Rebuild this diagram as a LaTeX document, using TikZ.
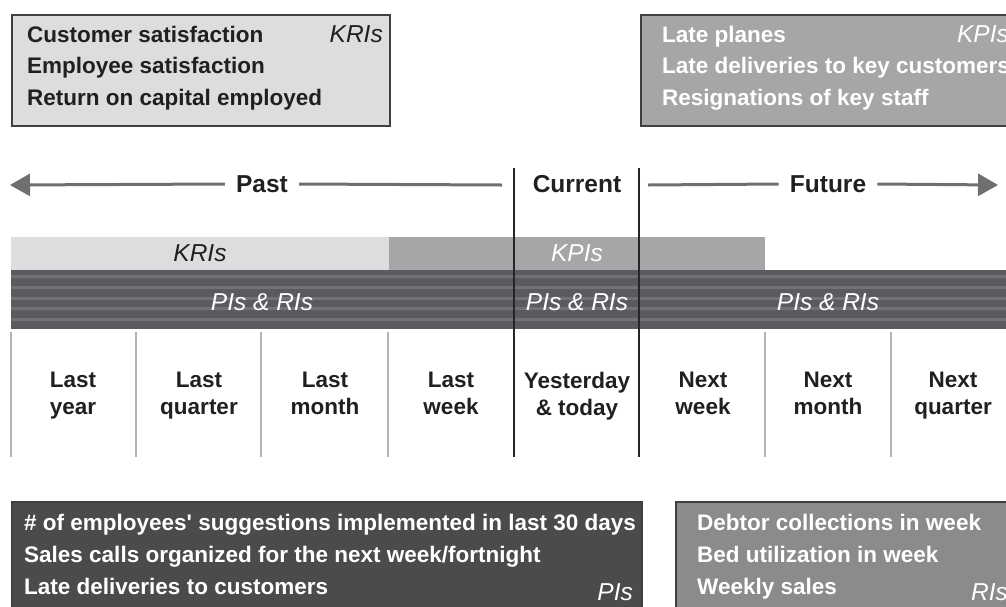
\documentclass[tikz,border=0pt]{standalone}
\usepackage{fontspec}
\setmainfont{Liberation Sans}
\definecolor{krigray}{RGB}{220,221,223}
\definecolor{kpigray}{RGB}{165,166,168}
\definecolor{bandgray}{RGB}{90,91,94}
\definecolor{stripegray}{RGB}{114,115,118}
\definecolor{pigray}{RGB}{75,75,77}
\definecolor{rigray}{RGB}{138,139,141}
\definecolor{arrowgray}{RGB}{110,111,113}
\definecolor{linegray}{RGB}{180,180,182}
\definecolor{inkdark}{RGB}{35,31,32}
\usetikzlibrary{arrows.meta,positioning}

\begin{document}
\begin{tikzpicture}[x=1pt, y=-1pt, >={Triangle[length=20pt,width=22pt]},
  every node/.style={inner sep=0pt},
  txt/.style={font=\fontsize{22.5}{27}\selectfont\bfseries, text=inkdark, anchor=base west},
  wtxt/.style={txt, text=white},
  tag/.style={font=\fontsize{24.5}{29}\selectfont\itshape, anchor=base east},
  head/.style={font=\fontsize{24.5}{29}\selectfont\bfseries, text=inkdark, inner xsep=11pt},
  col/.style={font=\fontsize{22.5}{27}\selectfont\bfseries, text=inkdark, align=center, anchor=north},
  box/.style={draw=black!75, line width=1.5pt, anchor=north west},
  timeline/.style={arrowgray, line width=3pt}]

\useasboundingbox (0,0) rectangle (1006,606);
\clip (0,0) rectangle (1006,606);

% indicator boxes
\node[box, fill=krigray, minimum width=378pt, minimum height=111pt] (krbox) at (11,14) {};
\node[box, fill=kpigray, minimum width=380pt, minimum height=111pt] (kpbox) at (640,14) {};
\node[box, fill=pigray, minimum width=630pt, minimum height=120pt] (pibox) at (11,501) {};
\node[box, fill=rigray, minimum width=345pt, minimum height=120pt] (ribox) at (675,501) {};

\foreach \t [count=\i] in {Customer satisfaction, Employee satisfaction, Return on capital employed}
  \node[txt] (kr\i) at (27,{42+31.5*(\i-1)}) {\t};
\node[tag, text=inkdark] (krtag) at (383,42) {KRIs};

\foreach \t [count=\i] in {Late planes, Late deliveries to key customers, Resignations of key staff}
  \node[wtxt] (kp\i) at (662,{42+31.5*(\i-1)}) {\t};
\node[tag, text=white] (kptag) at (1009,42) {KPIs};

\foreach \t [count=\i] in {\# of employees\textquotesingle\ suggestions implemented in last 30 days,
    Sales calls organized for the next week/fortnight, Late deliveries to customers}
  \node[wtxt] (pi\i) at (24,{530+32*(\i-1)}) {\t};
\node[tag, text=white] (pitag) at (633,600) {PIs};

\foreach \t [count=\i] in {Debtor collections in week, Bed utilization in week, Weekly sales}
  \node[wtxt] (ri\i) at (697,{530+32*(\i-1)}) {\t};
\node[tag, text=white] (ritag) at (1008,600) {RIs};

% time line
\node[head] (past) at (262,184) {Past};
\node[head, inner xsep=0pt] (current) at (577,184) {Current};
\node[head] (future) at (828,184) {Future};
\coordinate (pastend) at (10,185);
\coordinate (pastin) at (502,185);
\coordinate (futin) at (648,185);
\coordinate (futend) at (998,185);
\draw[timeline, ->] (past.west) -- (pastend);
\draw[timeline] (past.east) -- (pastin);
\draw[timeline] (futin) -- (future.west);
\draw[timeline, ->] (future.east) -- (futend);

% bands
\fill[krigray] (11,237) rectangle (389,270);
\fill[kpigray] (389,237) rectangle (765,270);
\fill[bandgray] (11,270) rectangle (1006,329);
\foreach \s in {276,287,298,308,319}
  \draw[stripegray, line width=3pt] (11,\s) -- (1006,\s);
\node[tag, anchor=center, text=inkdark] (krilbl) at (200,253) {KRIs};
\node[tag, anchor=center, text=white] (kpilbl) at (577,253) {KPIs};
\foreach \x [count=\i] in {262,577,828}
  \node[tag, anchor=center, text=white] (pr\i) at (\x,302) {PIs \& RIs};

% periods
\foreach \x in {11,136,261,388,765,891}
  \draw[linegray, line width=1.5pt] (\x,332) -- (\x,457);
\foreach \x in {514,639}
  \draw[black!85, line width=1.5pt] (\x,168) -- (\x,457);
\foreach \x/\a/\b [count=\i] in {73/Last/year, 199/Last/quarter, 325/Last/month, 451/Last/week,
    577/Yesterday/\& today, 703/Next/week, 828/Next/month, 953/Next/quarter}
  \node[col] (per\i) at (\x,372) {\a\\\b};

\end{tikzpicture}
\end{document}
